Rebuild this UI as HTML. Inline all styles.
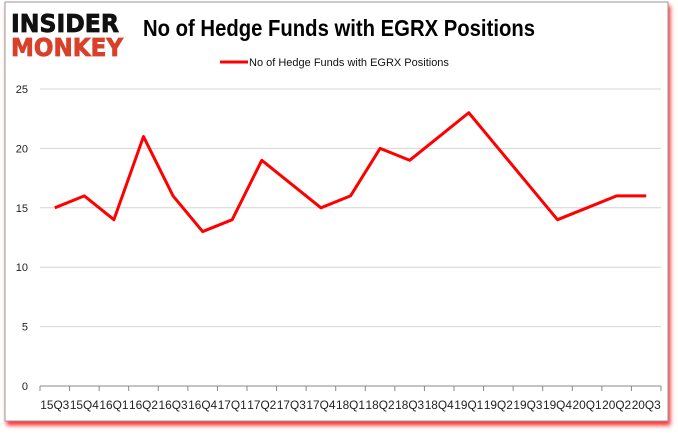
<!DOCTYPE html>
<html><head><meta charset="utf-8"><style>
body{margin:0;background:#fff;width:678px;height:431px;overflow:hidden;font-family:"Liberation Sans",sans-serif}
</style></head><body>
<svg width="678" height="431">
<defs><filter id="sh" x="-5%" y="-5%" width="110%" height="115%"><feDropShadow dx="2" dy="4" stdDeviation="2" flood-color="#f00" flood-opacity="0.8"/></filter></defs>
<rect x="5" y="2" width="663" height="419" fill="#fff" stroke="#999" filter="url(#sh)"/>
<g>
<text x="11" y="32" font-size="25" font-weight="bold" fill="#111" font-family="DejaVu Sans" textLength="108" lengthAdjust="spacingAndGlyphs" stroke="#111" stroke-width="0.8">INSIDER</text>
<text x="11" y="56" font-size="25" font-weight="bold" fill="#d8402a" font-family="DejaVu Sans" textLength="112" lengthAdjust="spacingAndGlyphs" stroke="#d8402a" stroke-width="0.8">MONKEY</text>
</g>
<text x="143" y="36" font-size="23" font-weight="bold" fill="#000" textLength="392" lengthAdjust="spacingAndGlyphs">No of Hedge Funds with EGRX Positions</text>
<g>
<line x1="220" y1="62" x2="248" y2="62" stroke="#f00" stroke-width="3"/>
<text x="249" y="66" font-size="11" fill="#111">No of Hedge Funds with EGRX Positions</text>
</g>
<g id="grid"></g><g id="xax"></g>
<polyline id="line" fill="none" stroke="#f00" stroke-width="3" stroke-linejoin="round"/>
</svg>
<script>
const categories=["15Q3","15Q4","16Q1","16Q2","16Q3","16Q4","17Q1","17Q2","17Q3","17Q4","18Q1","18Q2","18Q3","18Q4","19Q1","19Q2","19Q3","19Q4","20Q1","20Q2","20Q3"];
const values=[15,16,14,21,16,13,14,19,17,15,16,20,19,21,23,20,17,14,15,16,16];
const yTicks=[0,5,10,15,20,25];
const NS="http://www.w3.org/2000/svg";
const x0=40,x1=661,y0=386,yTop=89;
const bw=(x1-x0)/categories.length;
const X=i=>x0+bw*(i+0.5);
const Y=v=>y0-(v/25)*(y0-yTop);
function mk(t,a,p){const e=document.createElementNS(NS,t);for(const k in a)e.setAttribute(k,a[k]);p.appendChild(e);return e;}
const g=document.getElementById('grid');
yTicks.forEach(v=>{
 const l=mk('line',{x1:x0,x2:x1,y1:Y(v),y2:Y(v),stroke:v?'#d4d4d4':'#888'},g);
 
 
 const t=mk('text',{x:x0-12,y:Y(v)+4,'font-size':11,'text-anchor':'end',fill:'#222'},g);
 t.textContent=v;
 
 
});
const xa=document.getElementById('xax');
categories.forEach((c,i)=>{
 const tk=mk('line',{x1:x0+bw*i,x2:x0+bw*i,y1:y0,y2:y0+5,stroke:'#888'},xa);
 
 
 const t=mk('text',{x:X(i),y:409,'font-size':11.5,'text-anchor':'middle',fill:'#222',textLength:29,lengthAdjust:'spacingAndGlyphs'},xa);
 t.textContent=c;
 
 
});
mk('line',{x1:x1,x2:x1,y1:y0,y2:y0+5,stroke:'#888'},xa);
const pl=document.getElementById('line');
pl.setAttribute('points',values.map((v,i)=>X(i)+','+Y(v)).join(' '));


</script>
</body></html>
